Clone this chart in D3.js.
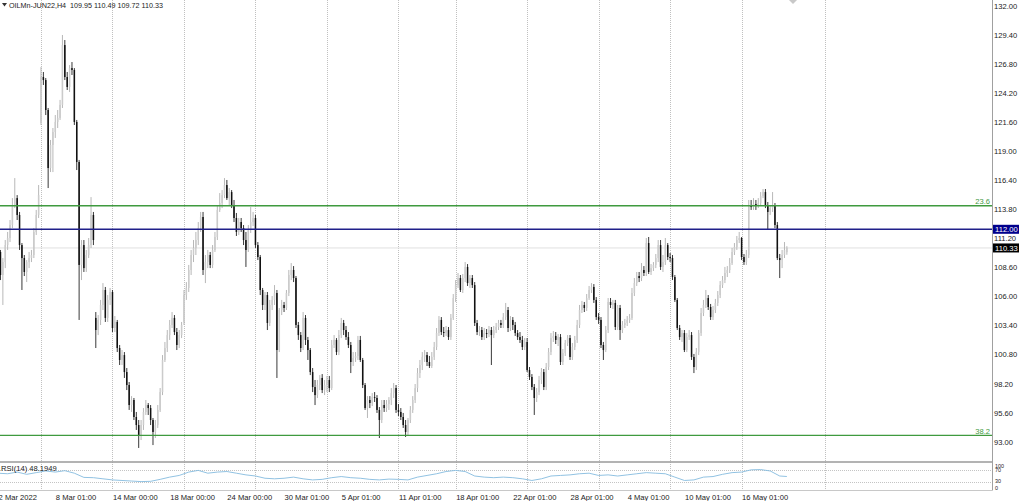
<!DOCTYPE html>
<html><head><meta charset="utf-8">
<script src="https://cdn.jsdelivr.net/npm/d3@7"></script>
<style>
body{margin:0;background:#fff}
svg{display:block}
text{font-family:"Liberation Sans",Arial,sans-serif;font-size:7.6px;fill:#222}
</style></head>
<body><svg id="c" width="1024" height="501"></svg>
<script>
// ---- DATA (OILMn-JUN22, H4) ----
const opens=[110.60,109.97,107.91,109.07,110.59,111.22,112.38,114.17,114.79,113.28,
110.59,109.43,108.18,109.07,109.43,109.70,111.76,113.28,121.51,125.62,
125.35,122.67,117.48,119.54,120.70,121.60,121.96,123.12,128.48,125.62,
124.73,126.42,126.25,121.60,118.02,108.81,110.59,108.53,109.70,110.59,
113.28,104.07,102.99,103.89,105.23,106.57,104.07,105.68,106.39,103.17,
103.71,101.38,100.31,100.75,99.23,98.07,96.28,96.73,95.21,94.49,
93.60,94.49,95.66,96.28,96.01,94.94,93.87,94.49,95.84,97.44,
100.31,101.38,102.54,103.44,104.07,102.81,101.65,102.54,103.71,106.12,
106.75,108.36,109.70,110.33,111.04,112.11,113.10,108.36,109.07,109.70,
108.81,110.15,111.31,113.73,114.35,115.06,115.96,114.79,115.33,114.17,
113.01,111.76,112.65,112.11,111.04,110.15,111.94,112.65,113.01,110.59,
109.52,106.57,105.23,106.12,103.62,105.23,105.68,106.30,101.20,104.78,
105.23,104.96,106.30,107.91,108.36,107.64,103.44,102.54,101.38,104.07,
102.10,101.20,99.23,97.89,97.17,98.07,98.70,97.62,98.07,98.52,
97.80,101.65,102.10,101.02,102.54,103.62,102.99,102.36,101.65,100.13,
100.49,100.67,102.10,100.31,98.07,96.01,96.73,96.46,96.99,96.91,
95.84,94.94,96.28,96.01,96.37,96.73,97.35,97.80,95.84,95.66,
95.21,94.49,93.87,94.94,95.84,96.73,97.80,99.14,99.86,100.58,
100.75,100.13,99.77,100.58,101.47,102.72,103.89,102.81,102.72,102.99,
102.36,104.07,105.85,107.01,107.64,106.57,107.64,108.63,107.19,107.64,
107.01,103.62,102.81,102.99,102.36,102.72,102.63,102.99,102.54,102.99,
103.26,103.62,103.44,104.15,104.78,103.17,103.89,103.44,102.72,102.36,
102.10,101.47,101.92,99.41,98.79,97.89,96.91,97.44,98.52,99.23,
97.89,99.68,101.02,102.27,102.46,102.10,102.36,100.13,100.93,101.83,
102.27,100.58,101.47,102.10,103.44,104.78,105.23,104.96,105.85,106.57,
106.84,105.68,104.15,103.89,101.65,101.20,102.99,105.50,105.23,105.41,
103.26,104.96,102.99,103.44,103.62,103.89,104.07,106.30,107.19,107.82,
107.64,108.36,108.09,110.77,108.18,108.53,108.81,109.43,110.59,108.63,
109.07,110.59,109.52,109.43,107.73,105.68,103.17,102.36,102.72,101.20,
102.36,102.54,100.58,99.68,101.02,102.72,104.51,105.23,105.85,105.05,
104.15,104.78,105.41,106.12,107.01,107.46,108.09,108.36,108.98,109.97,
110.42,111.04,111.22,109.52,109.07,109.70,114.17,113.99,114.26,114.08,
114.35,114.97,115.33,114.17,113.55,113.90,114.17,112.38,109.43,109.25,
109.70,109.95];
const highs=[111.04,110.15,109.43,111.04,111.76,112.83,114.79,116.58,115.06,113.55,
110.77,109.70,109.25,109.97,110.15,112.11,113.73,115.96,126.51,126.07,
125.53,122.85,119.99,121.06,122.22,122.67,123.57,129.38,128.93,126.07,
126.69,126.96,126.42,121.78,118.20,111.04,111.04,110.15,111.22,114.88,
113.55,104.60,104.33,105.68,107.19,106.84,106.12,106.75,106.57,104.24,
103.89,101.65,101.20,101.02,99.59,98.34,97.08,96.91,95.66,94.94,
94.94,96.01,96.73,96.46,96.28,95.12,94.94,96.28,97.80,100.75,
101.92,102.99,103.89,104.60,104.33,103.17,102.99,103.71,106.57,107.28,
108.81,110.15,111.04,111.76,112.65,113.55,113.55,109.70,110.15,109.97,
110.59,111.76,114.17,115.24,115.51,116.58,116.41,115.69,115.51,114.62,
113.46,113.01,113.01,112.38,111.76,112.38,113.99,113.55,113.28,110.86,
109.70,106.75,106.39,106.39,105.68,106.03,107.01,106.57,104.96,105.68,
105.50,106.57,108.36,108.98,108.71,107.82,103.71,102.81,104.60,104.33,
102.37,101.38,99.59,98.52,98.52,98.96,99.05,98.52,98.88,98.88,
102.10,102.54,102.27,102.99,104.07,103.89,103.35,102.81,101.92,101.02,
101.02,102.46,102.46,100.49,98.25,97.08,97.08,97.35,97.44,97.17,
96.10,96.73,96.73,96.73,96.99,97.80,98.25,98.07,96.37,96.01,
95.57,94.94,95.12,96.19,97.08,98.16,99.59,100.31,101.02,101.20,
101.02,100.67,101.02,101.92,103.17,104.24,104.15,103.26,103.35,103.26,
104.42,106.21,107.46,108.09,107.91,108.00,109.07,108.89,107.91,107.91,
107.28,103.89,103.35,103.26,103.17,103.08,103.35,103.26,103.35,103.62,
103.89,103.89,104.51,105.41,105.05,104.24,104.15,103.71,102.99,102.81,
102.46,102.27,102.27,99.68,99.05,98.16,97.80,98.88,99.59,99.50,
100.04,101.38,102.72,102.90,102.81,102.63,102.63,101.29,102.10,102.54,
102.54,101.83,102.46,103.89,105.23,105.59,105.50,106.21,106.93,107.19,
107.10,105.94,104.51,104.15,101.92,103.35,105.85,105.85,105.68,105.68,
105.23,105.23,103.80,103.98,104.24,104.42,106.75,107.64,108.18,108.18,
108.98,108.71,111.22,111.31,108.89,109.07,109.79,111.04,111.04,109.70,
111.22,110.77,109.88,109.70,107.91,105.85,103.44,102.99,102.99,102.72,
102.99,102.81,100.85,101.38,102.99,104.96,105.68,106.57,106.12,105.32,
105.14,105.77,106.48,107.37,107.82,108.63,108.71,109.43,110.33,110.77,
111.40,111.76,111.31,109.79,110.15,114.62,114.62,114.79,114.62,114.79,
115.33,115.60,115.60,114.44,114.17,115.33,114.35,112.65,109.79,110.15,
110.86,110.49];
const lows=[109.07,107.46,105.23,108.53,110.15,110.86,112.11,113.90,112.83,110.15,
106.57,107.82,107.28,108.53,109.07,109.43,111.49,113.01,121.33,124.91,
122.22,115.69,117.12,117.12,120.17,121.06,121.78,122.85,125.35,124.46,
124.28,125.80,121.33,117.30,103.89,107.46,108.18,108.18,109.43,110.33,
110.59,101.38,102.54,103.44,104.78,103.71,103.71,105.23,102.81,102.81,
101.02,99.86,99.86,98.70,97.62,95.84,95.66,94.94,94.05,92.44,
93.15,94.05,95.39,95.39,94.49,92.70,93.33,94.23,95.66,97.17,
100.13,101.02,102.10,103.17,102.54,101.20,101.38,102.27,103.44,105.68,
106.39,107.91,109.07,109.70,110.59,111.76,107.91,107.19,108.53,108.53,
108.53,109.97,111.04,113.55,113.90,114.79,114.62,114.17,113.90,112.65,
111.40,111.49,111.76,110.59,108.63,109.97,111.67,112.29,110.33,109.25,
106.12,104.78,104.78,102.99,103.35,104.78,105.23,98.70,101.02,104.33,
104.60,104.78,106.03,107.46,107.28,103.17,102.10,101.02,101.20,101.65,
100.31,98.96,97.44,96.28,96.91,97.62,97.35,97.17,97.44,97.44,
97.62,101.38,100.75,100.75,102.27,102.54,102.10,101.38,99.14,99.77,
100.13,100.31,100.13,97.80,95.84,95.12,96.01,96.19,96.55,95.57,
93.33,94.67,95.66,95.66,95.84,96.28,96.91,95.57,95.30,94.94,
94.23,93.42,93.51,94.67,95.57,96.46,97.44,98.70,99.41,100.13,
99.77,99.59,99.59,100.31,101.20,102.46,102.54,102.36,102.46,102.10,
102.10,103.89,105.50,106.75,106.39,106.30,107.28,106.93,106.75,106.75,
103.35,102.54,102.46,102.10,102.10,102.27,102.36,99.86,102.27,102.72,
102.99,103.17,103.17,103.89,102.81,102.90,102.99,102.46,102.10,101.83,
101.20,101.20,99.23,98.52,97.62,95.39,96.55,97.17,98.16,97.62,
97.62,99.41,100.75,101.92,101.74,101.56,99.86,99.86,100.67,101.56,
100.31,100.31,101.20,101.83,103.17,104.51,104.60,104.69,105.68,106.30,
105.41,103.89,103.53,101.38,100.31,101.02,102.72,104.96,104.87,102.99,
102.99,102.10,102.72,103.17,103.35,103.62,103.89,106.03,106.93,107.28,
107.37,107.82,107.82,108.00,107.91,108.27,108.53,109.07,108.36,108.18,
108.81,109.25,109.07,107.46,105.50,102.99,102.10,101.92,101.02,101.02,
102.10,100.31,99.14,99.41,100.75,102.46,104.24,104.96,104.78,103.89,
103.89,104.51,105.14,105.85,106.75,107.19,107.73,108.09,108.81,109.70,
110.15,110.77,109.25,108.81,108.81,109.43,113.73,113.73,113.73,113.90,
114.08,114.79,113.90,111.94,113.28,113.55,112.11,109.25,107.64,108.53,
109.43,109.72];
const closes=[109.97,107.91,109.07,110.59,111.22,112.38,114.17,114.79,113.28,110.59,
109.43,108.18,109.07,109.43,109.70,111.76,113.28,115.06,125.62,125.35,
122.67,117.48,119.54,120.70,121.60,121.96,123.12,128.48,125.62,124.73,
126.42,126.25,121.60,118.02,108.81,110.59,108.53,109.70,110.59,113.28,
111.04,102.99,103.89,105.23,106.57,104.07,105.68,106.39,103.17,103.71,
101.38,100.31,100.75,99.23,98.07,96.28,96.73,95.21,94.49,93.60,
94.49,95.66,96.28,96.01,94.94,93.87,94.49,95.84,97.44,100.31,
101.38,102.54,103.44,104.07,102.81,101.65,102.54,103.44,106.12,106.75,
108.36,109.70,110.33,111.04,112.11,113.10,108.36,109.07,109.70,108.81,
110.15,111.31,113.73,114.35,115.06,115.96,114.79,115.33,114.17,113.01,
111.76,112.65,112.11,111.04,110.15,111.94,112.65,113.01,110.59,109.52,
106.57,105.23,106.12,103.62,105.23,105.68,106.30,101.20,104.78,105.23,
104.96,106.30,107.91,108.36,107.64,103.44,102.54,101.38,104.07,102.10,
101.20,99.23,97.89,97.17,98.07,98.70,97.62,98.07,98.52,97.80,
101.65,102.10,101.02,102.54,103.62,102.99,102.36,101.65,100.13,100.49,
100.67,102.10,100.31,98.07,96.01,96.73,96.46,96.99,96.91,95.84,
94.94,96.28,96.01,96.37,96.73,97.35,97.80,95.84,95.66,95.21,
94.49,93.87,94.94,95.84,96.73,97.80,99.14,99.86,100.58,100.75,
100.13,99.77,100.58,101.47,102.72,103.89,102.81,102.72,102.99,102.36,
104.07,105.85,107.01,107.64,106.57,107.64,108.63,107.19,107.64,107.01,
103.62,102.81,102.99,102.36,102.72,102.63,102.99,102.54,102.99,103.26,
103.62,103.44,104.15,104.78,103.17,103.89,103.44,102.72,102.36,102.10,
101.47,101.92,99.41,98.79,97.89,96.91,97.44,98.52,99.23,97.89,
99.68,101.02,102.27,102.46,102.10,102.36,100.13,100.93,101.83,102.27,
100.58,101.47,102.10,103.44,104.78,105.23,104.96,105.85,106.57,106.84,
105.68,104.15,103.89,101.65,101.20,102.99,105.50,105.23,105.41,103.26,
104.96,102.99,103.44,103.62,103.89,104.07,106.30,107.19,107.82,107.64,
108.36,108.09,110.77,108.18,108.53,108.81,109.43,110.59,108.63,109.07,
110.59,109.52,109.43,107.73,105.68,103.17,102.36,102.72,101.20,102.36,
102.54,100.58,99.68,101.02,102.72,104.51,105.23,105.85,105.05,104.15,
104.78,105.41,106.12,107.01,107.46,108.09,108.36,108.98,109.97,110.42,
111.04,111.22,109.52,109.07,109.70,114.17,113.99,114.26,114.08,114.35,
114.97,115.33,114.17,113.55,113.90,114.17,112.38,109.43,109.25,109.70,
110.15,110.33];

const priceTicks=[132.00,129.40,126.80,124.20,121.60,119.00,116.40,113.80,111.20,108.60,106.00,103.40,100.80,98.20,95.60,93.00];
const dateTickIdx=[0,24,48,72,96,120,144,168,192,216,240,264,288,312];
const dateTickLabels=["2 Mar 2022","8 Mar 01:00","14 Mar 00:00","18 Mar 00:00","24 Mar 00:00","30 Mar 01:00","5 Apr 01:00","11 Apr 01:00","18 Apr 01:00","22 Apr 01:00","28 Apr 01:00","4 May 01:00","10 May 01:00","16 May 01:00"];
const weekLineIdx=[18,48,78,108,138,168,192,222,252,282,312,347];
const fiboPrices=[114.11,93.57];
const fiboLabels=["23.6","38.2"];
const levelPrice=112.00;
const lastPrice=110.33;
const rsiIdx=[0,4,8,12,16,20,24,28,32,36,40,44,48,52,56,60,64,68,72,76,80,84,88,92,96,100,104,108,112,116,120,124,128,132,136,140,144,148,152,156,160,164,168,172,176,180,184,188,192,196,200,204,208,212,216,220,224,228,232,236,240,244,248,252,256,260,264,268,272,276,280,284,288,292,296,300,304,308,312,316,320,324,328,331];
const rsiVals=[60,58,64,56,62,68,64,69,60,45,44,40,36,34,32,30,31,38,46,52,64,70,60,64,66,60,54,50,42,40,42,46,40,36,38,44,48,44,42,38,36,39,38,36,46,52,58,66,70,66,50,46,44,46,44,40,34,40,50,52,54,58,60,52,54,50,54,58,62,60,58,46,34,36,46,48,56,62,64,72,73,68,50,48.19];
const rsiLevels=[70,30];
const rsiTicks=[100,70,30,0];

// ---- LAYOUT ----
const svg=d3.select("#c");
const plotRight=992, mainBottom=462, rsiTop=463.5, rsiBottom=490.5;
const n=closes.length;
const x=d3.scaleLinear().domain([0,n-1]).range([-1.9,-1.9+2.383*(n-1)]);
const y=d3.scaleLinear().domain([93,132]).range([441.7,5.7]);
const yR=d3.scaleLinear().domain([0,100]).range([490,462]);

const defs=svg.append("defs");
defs.append("clipPath").attr("id","mainClip").append("rect").attr("x",0).attr("y",0).attr("width",plotRight).attr("height",mainBottom);
defs.append("clipPath").attr("id","rsiClip").append("rect").attr("x",0).attr("y",rsiTop).attr("width",plotRight).attr("height",rsiBottom-rsiTop);

// vertical grid (week separators)
svg.append("g").selectAll("line").data(weekLineIdx).join("line")
  .attr("x1",d=>Math.round(x(d))+0.5).attr("x2",d=>Math.round(x(d))+0.5)
  .attr("y1",0).attr("y2",rsiBottom)
  .attr("stroke","#c0c0c0").attr("stroke-width",1).attr("stroke-dasharray","1,1");

const main=svg.append("g").attr("clip-path","url(#mainClip)");

// current price line
main.append("line").attr("x1",0).attr("x2",plotRight).attr("y1",y(lastPrice)).attr("y2",y(lastPrice))
  .attr("stroke","#e0e0e0").attr("stroke-width",1);

// candles
const idx=d3.range(n);
const bw=1.5;
main.append("g").selectAll("line").data(idx).join("line")
  .attr("x1",i=>x(i)).attr("x2",i=>x(i))
  .attr("y1",i=>y(highs[i])).attr("y2",i=>y(lows[i]))
  .attr("stroke",i=>closes[i]>=opens[i]?"#b0b0b0":"#222").attr("stroke-width",0.9);
main.append("g").selectAll("rect").data(idx).join("rect")
  .attr("x",i=>x(i)-bw/2).attr("width",bw)
  .attr("y",i=>y(Math.max(opens[i],closes[i])))
  .attr("height",i=>Math.max(0.8,Math.abs(y(opens[i])-y(closes[i]))))
  .attr("fill",i=>closes[i]>=opens[i]?"#cbcbcb":"#111");

// horizontal levels
main.append("g").selectAll("line").data(fiboPrices).join("line")
  .attr("x1",0).attr("x2",plotRight).attr("y1",d=>y(d)).attr("y2",d=>y(d))
  .attr("stroke","#3f9a3f").attr("stroke-width",1.4);
main.append("line").attr("x1",0).attr("x2",plotRight).attr("y1",y(levelPrice)).attr("y2",y(levelPrice))
  .attr("stroke","#20208a").attr("stroke-width",1.4);
svg.append("g").selectAll("text").data(fiboPrices).join("text")
  .attr("x",plotRight-2).attr("y",d=>y(d)-1.5).attr("text-anchor","end")
  .style("fill","#3f9a3f").text((d,i)=>fiboLabels[i]);

// panel borders
svg.append("line").attr("x1",0).attr("x2",plotRight).attr("y1",mainBottom).attr("y2",mainBottom).attr("stroke","#9a9a9a").attr("stroke-width",1.5);
svg.append("line").attr("x1",0).attr("x2",plotRight).attr("y1",rsiBottom).attr("y2",rsiBottom).attr("stroke","#c8c8c8").attr("stroke-width",1);
svg.append("line").attr("x1",plotRight+0.5).attr("x2",plotRight+0.5).attr("y1",0).attr("y2",rsiBottom).attr("stroke","#a0a0a0").attr("stroke-width",1);

// price axis
const yAxis=d3.axisRight(y).tickValues(priceTicks).tickSize(0).tickPadding(2).tickFormat(d3.format(".2f"));
const ya=svg.append("g").attr("transform",`translate(${plotRight},0)`).call(yAxis);
ya.select(".domain").remove();
ya.selectAll("text").style("font-family",'"Liberation Sans",Arial,sans-serif').style("font-size","7.6px").style("fill","#222");

// price boxes
function box(price,fill){
  const g=svg.append("g");
  g.append("rect").attr("x",plotRight+1).attr("y",y(price)-4.5).attr("width",26).attr("height",9).attr("fill",fill);
  g.append("text").attr("x",plotRight+3).attr("y",y(price)).attr("dy","0.35em").style("fill","#fff").text(d3.format(".2f")(price));
}
box(levelPrice,"#00008c");
box(lastPrice,"#000");

// RSI panel
const rsiG=svg.append("g").attr("clip-path","url(#rsiClip)");
rsiG.selectAll("line.lv").data(rsiLevels).join("line").attr("class","lv")
  .attr("x1",0).attr("x2",plotRight).attr("y1",d=>Math.round(yR(d))+0.5).attr("y2",d=>Math.round(yR(d))+0.5)
  .attr("stroke","#c4c4c4").attr("stroke-dasharray","1,1");
const rsiPts=rsiIdx.map((d,i)=>[d,rsiVals[i]]);
rsiG.append("path").datum(rsiPts)
  .attr("d",d3.line().x(d=>x(d[0])).y(d=>yR(d[1])))
  .attr("fill","none").attr("stroke","#85bbdf").attr("stroke-width",0.9);
svg.append("text").attr("x",1).attr("y",468.5).attr("dy","0.35em").text("RSI(14) 48.1949");
// RSI scale labels, kept inside the small panel
const rsiLabelY=d=>Math.min(rsiBottom-2.5,Math.max(rsiTop+2.5,yR(d)));
svg.append("g").selectAll("text").data(rsiTicks).join("text")
  .attr("x",plotRight+3).attr("y",rsiLabelY).attr("dy","0.35em")
  .style("font-size","5.4px").text(d=>d);

// time axis
const xAxis=d3.axisBottom(x).tickValues(dateTickIdx).tickSize(0).tickPadding(0).tickFormat((d,i)=>dateTickLabels[i]);
const xa=svg.append("g").attr("transform",`translate(0,${rsiBottom})`).call(xAxis);
xa.select(".domain").remove();
xa.selectAll("text").attr("text-anchor","start").attr("dy",null).attr("y",9)
  .style("font-family",'"Liberation Sans",Arial,sans-serif').style("font-size","7.6px").style("fill","#222");

// title
svg.append("path").attr("d","M2,3 L7,3 L4.5,6.5 Z").attr("fill","#333");
svg.append("text").attr("x",9).attr("y",7.5).attr("xml:space","preserve").style("white-space","pre").style("font-size","7.2px")
  .text("OILMn-JUN22,H4  109.95 110.49 109.72 110.33");

// chart shift marker
svg.append("path").attr("d","M789,0 L797,0 L793,4 Z").attr("fill","#c8c8c8");
</script></body></html>
